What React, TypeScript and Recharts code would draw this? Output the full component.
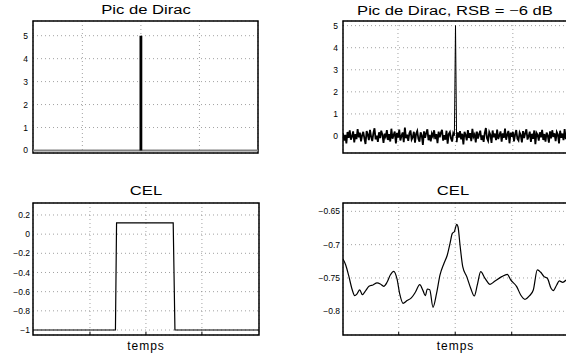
import React from "react";
import { LineChart, Line, XAxis, YAxis, CartesianGrid, ReferenceArea } from "recharts";

const FONT = '"Liberation Sans", Arial, Helvetica, sans-serif';

// time axis (arbitrary units), grid every unit
const TIME_TICKS = [1, 2, 3];

// Pic de Dirac
const DIRAC_T = [0.157, 2, 2, 2, 4.0];
const DIRAC_BASE = [0, 0, 0, 0, 0];
const DIRAC_PIC = [null, 0, 5, 0, null];
const DIRAC_TICKS = [0, 1, 2, 3, 4, 5];

// Pic de Dirac, RSB = -6 dB
const NOISY_T0 = 0.043;
const NOISY_T1 = 3.96;
const NOISY_VALUES = [
  0.12, -0.21, 0.05, -0.33, 0.18, -0.08, 0.26, -0.17, -0.02, 0.21, -0.29, 0.09, -0.14, 0.31, -0.06, 0.15, -0.24, 0.03, 0.19, -0.11,
  -0.36, 0.22, 0.07, -0.19, 0.28, -0.04, -0.23, 0.13, 0.35, -0.15, 0.02, -0.27, 0.17, -0.09, 0.24, 0.06, -0.31, 0.11, -0.03, 0.27,
  -0.18, 0.08, -0.25, 0.33, -0.12, 0.04, 0.2, -0.34, 0.14, -0.07, 0.29, -0.2, 0.01, 0.16, -0.28, 0.38, -0.1, 0.06, -0.22, 0.12,
  0.25, -0.16, -0.05, 0.19, -0.3, 0.1, 0.23, -0.13, -0.26, 0.17, 0.03, -0.4, 0.21, -0.08, 0.14, 0.3, -0.19, 0.05, -0.24, 0.11,
  -0.02, 0.26, -0.14, 0.08, -0.32, 0.2, -0.06, 0.15, 0.28, -0.21, 0.04, -0.17, 0.24, -0.35, 0.09, 0.18, -0.11, -0.25, 0.13, 0.02,
  5,
  -0.28, 0.16, -0.07, 0.22, -0.15, 0.1, -0.38, 0.19, 0.05, -0.2, 0.27, -0.09, 0.13, -0.23, 0.32, -0.04, 0.07, -0.29, 0.2, -0.12,
  0.09, 0.24, -0.18, 0.03, -0.27, 0.14, 0.36, -0.1, -0.22, 0.18, 0.06, -0.31, 0.25, -0.05, 0.11, -0.19, 0.29, -0.14, 0.02, 0.21,
  -0.26, 0.12, -0.08, 0.34, -0.17, 0.07, 0.23, -0.33, 0.15, -0.03, 0.19, -0.24, 0.08, 0.27, -0.12, -0.2, 0.16, 0.04, -0.29, 0.22,
  -0.09, 0.13, 0.3, -0.16, -0.02, 0.2, -0.27, 0.1, -0.13, 0.25, -0.37, 0.14, 0.05, -0.21, 0.17, -0.06, 0.28, -0.18, 0.09, -0.25,
  0.15, 0.02, -0.3, 0.21, -0.11, 0.26, -0.04, 0.12, -0.23, 0.18, 0.07, -0.34, 0.24, -0.08, 0.11, -0.19, 0.31, -0.14, 0.04, 0.16,
];
const NOISY_TICKS = [0, 1, 2, 3, 4, 5];

// CEL
const CEL_T = [-0.018, 1.455, 1.475, 2.487, 2.518, 4.02];
const CEL_VALUES = [-1, -1, 0.117, 0.117, -1, -1];
const CEL_TICKS = [-1, -0.8, -0.6, -0.4, -0.2, 0, 0.2];

// CEL (bruité)
const CEL2_T = [
  0.014, 0.062, 0.115, 0.173, 0.221, 0.262, 0.31, 0.356, 0.416, 0.474, 0.545, 0.616, 0.674, 0.735, 0.793, 0.851, 0.912,
  0.97, 1.018, 1.076, 1.147, 1.223, 1.294, 1.372, 1.43, 1.471, 1.506, 1.549, 1.607, 1.669, 1.731, 1.802, 1.86, 1.908,
  1.949, 1.984, 2.027, 2.05, 2.085, 2.133, 2.204, 2.274, 2.338, 2.391, 2.451, 2.527, 2.616, 2.704, 2.823, 2.922, 2.982,
  3.088, 3.159, 3.235, 3.312, 3.382, 3.453, 3.513, 3.572, 3.63, 3.696, 3.736, 3.796, 3.842, 3.903, 3.962,
];
const CEL2_VALUES = [
  -0.7215, -0.7305, -0.7466, -0.7665, -0.7766, -0.774, -0.768, -0.775, -0.769, -0.7625, -0.7605, -0.7575, -0.759, -0.7625,
  -0.7565, -0.7455, -0.74, -0.7515, -0.774, -0.788, -0.784, -0.78, -0.7715, -0.76, -0.769, -0.7766, -0.7666, -0.7676,
  -0.794, -0.7736, -0.7455, -0.728, -0.7155, -0.698, -0.683, -0.6806, -0.6695, -0.6735, -0.7005, -0.733, -0.748, -0.7655,
  -0.777, -0.7605, -0.7406, -0.7505, -0.7595, -0.7545, -0.748, -0.7445, -0.753, -0.763, -0.7755, -0.782, -0.777, -0.768,
  -0.738, -0.7415, -0.748, -0.7505, -0.7655, -0.769, -0.7605, -0.7545, -0.7565, -0.753,
];
const CEL2_TICKS = [-0.8, -0.75, -0.7, -0.65];

const diracData = DIRAC_T.map((t, i) => ({ t, base: DIRAC_BASE[i], pic: DIRAC_PIC[i] }));

// the noise band is drawn thick, the peak itself thin
const NOISY_PEAK = NOISY_VALUES.indexOf(Math.max(...NOISY_VALUES));
const noisyData = NOISY_VALUES.map((v, i) => ({
  t: NOISY_T0 + (i * (NOISY_T1 - NOISY_T0)) / (NOISY_VALUES.length - 1),
  v: i === NOISY_PEAK ? null : v,
  pic: Math.abs(i - NOISY_PEAK) <= 1 ? v : null,
}));
const celData = CEL_T.map((t, i) => ({ t, v: CEL_VALUES[i] }));
const cel2Data = CEL2_T.map((t, i) => ({ t, v: CEL2_VALUES[i] }));

const fmt = (v: number) => String(Math.round(v * 100) / 100).replace("-", "\u2212");

// matlab-style small inward tick mark on the bottom edge
function InnerTick({ x, y }: any) {
  return <line x1={x} x2={x} y1={y} y2={y - 3} stroke="#000" strokeWidth={1} />;
}

function Panel({
  left,
  top,
  width,
  height,
  margin,
  yWidth,
  xHeight,
  tickGap,
  data,
  xDomain,
  yDomain,
  yTicks,
  xLabel,
  children,
}: any) {
  return (
    <div style={{ position: "absolute", left, top }}>
      <LineChart width={width} height={height} data={data} margin={margin}>
        <CartesianGrid stroke="#8a8a8a" strokeDasharray="1 3" strokeWidth={0.8} />
        <XAxis
          dataKey="t"
          type="number"
          domain={xDomain}
          allowDataOverflow
          ticks={TIME_TICKS}
          interval={0}
          tick={<InnerTick />}
          tickSize={0}
          tickMargin={0}
          tickLine={false}
          axisLine={false}
          height={xHeight}
          label={
            xLabel
              ? {
                  value: xLabel,
                  position: "insideBottom",
                  offset: 8,
                  fontSize: 12,
                  fill: "#000",
                  letterSpacing: 1,
                  fontFamily: FONT,
                }
              : undefined
          }
        />
        <YAxis
          type="number"
          domain={yDomain}
          allowDataOverflow
          ticks={yTicks}
          interval={0}
          width={yWidth}
          tickSize={0}
          tickMargin={tickGap}
          tickLine={false}
          axisLine={false}
          tickFormatter={fmt}
          tick={{ fontSize: 8.5, fill: "#000", fontFamily: FONT }}
        />
        {children}
        <ReferenceArea
          x1={xDomain[0]}
          x2={xDomain[1]}
          y1={yDomain[0]}
          y2={yDomain[1]}
          ifOverflow="visible"
          fill="none"
          stroke="#000"
          strokeWidth={1.5}
        />
      </LineChart>
    </div>
  );
}

function Title({ x, y, text }: { x: number; y: number; text: string }) {
  return (
    <div
      style={{
        position: "absolute",
        left: x,
        top: y,
        fontSize: 12.5,
        lineHeight: "12.5px",
        whiteSpace: "nowrap",
        transform: "translateX(-50%) scaleX(1.33)",
        fontFamily: FONT,
        color: "#000",
      }}
    >
      {text}
    </div>
  );
}

export default function App() {
  return (
    <div
      style={{
        position: "absolute",
        left: 0,
        top: 0,
        width: 566,
        height: 358,
        overflow: "hidden",
        background: "#fff",
        fontFamily: FONT,
      }}
    >
      <Title x={146} y={3.5} text="Pic de Dirac" />
      <Title x={455} y={4.5} text={"Pic de Dirac, RSB = \u22126 dB"} />
      <Title x={146} y={184.5} text="CEL" />
      <Title x={453} y={184.5} text="CEL" />

      <Panel
        left={0}
        top={0}
        width={283}
        height={179}
        margin={{ top: 21, right: 25, bottom: 26, left: 0 }}
        yWidth={33}
        xHeight={0}
        tickGap={5}
        data={diracData}
        xDomain={[0.157, 4.0]}
        yDomain={[-0.11, 5.64]}
        yTicks={DIRAC_TICKS}
      >
        <Line dataKey="base" type="linear" stroke="#808080" strokeWidth={2.2} dot={false} activeDot={false} isAnimationActive={false} />
        <Line dataKey="pic" type="linear" stroke="#000" strokeWidth={2.8} dot={false} activeDot={false} isAnimationActive={false} />
      </Panel>

      <Panel
        left={283}
        top={0}
        width={300}
        height={179}
        margin={{ top: 21, right: 15, bottom: 26, left: 0 }}
        yWidth={60}
        xHeight={0}
        tickGap={5}
        data={noisyData}
        xDomain={[NOISY_T0, NOISY_T1]}
        yDomain={[-0.77, 5.21]}
        yTicks={NOISY_TICKS}
      >
        <Line dataKey="v" type="linear" stroke="#000" strokeWidth={1.8} dot={false} activeDot={false} isAnimationActive={false} />
        <Line dataKey="pic" type="linear" stroke="#000" strokeWidth={1} dot={false} activeDot={false} isAnimationActive={false} />
      </Panel>

      <Panel
        left={0}
        top={179}
        width={283}
        height={179}
        margin={{ top: 24, right: 24, bottom: 0, left: 0 }}
        yWidth={33}
        xHeight={23}
        tickGap={3}
        data={celData}
        xDomain={[-0.018, 4.02]}
        yDomain={[-1.052, 0.325]}
        yTicks={CEL_TICKS}
        xLabel="temps"
      >
        <Line dataKey="v" type="linear" stroke="#000" strokeWidth={1.2} dot={false} activeDot={false} isAnimationActive={false} />
      </Panel>

      <Panel
        left={283}
        top={179}
        width={300}
        height={179}
        margin={{ top: 24, right: 15, bottom: 0, left: 0 }}
        yWidth={60}
        xHeight={23}
        tickGap={3}
        data={cel2Data}
        xDomain={[0.014, 3.996]}
        yDomain={[-0.8356, -0.6375]}
        yTicks={CEL2_TICKS}
        xLabel="temps"
      >
        <Line dataKey="v" type="monotone" stroke="#000" strokeWidth={1.2} dot={false} activeDot={false} isAnimationActive={false} />
      </Panel>
    </div>
  );
}
